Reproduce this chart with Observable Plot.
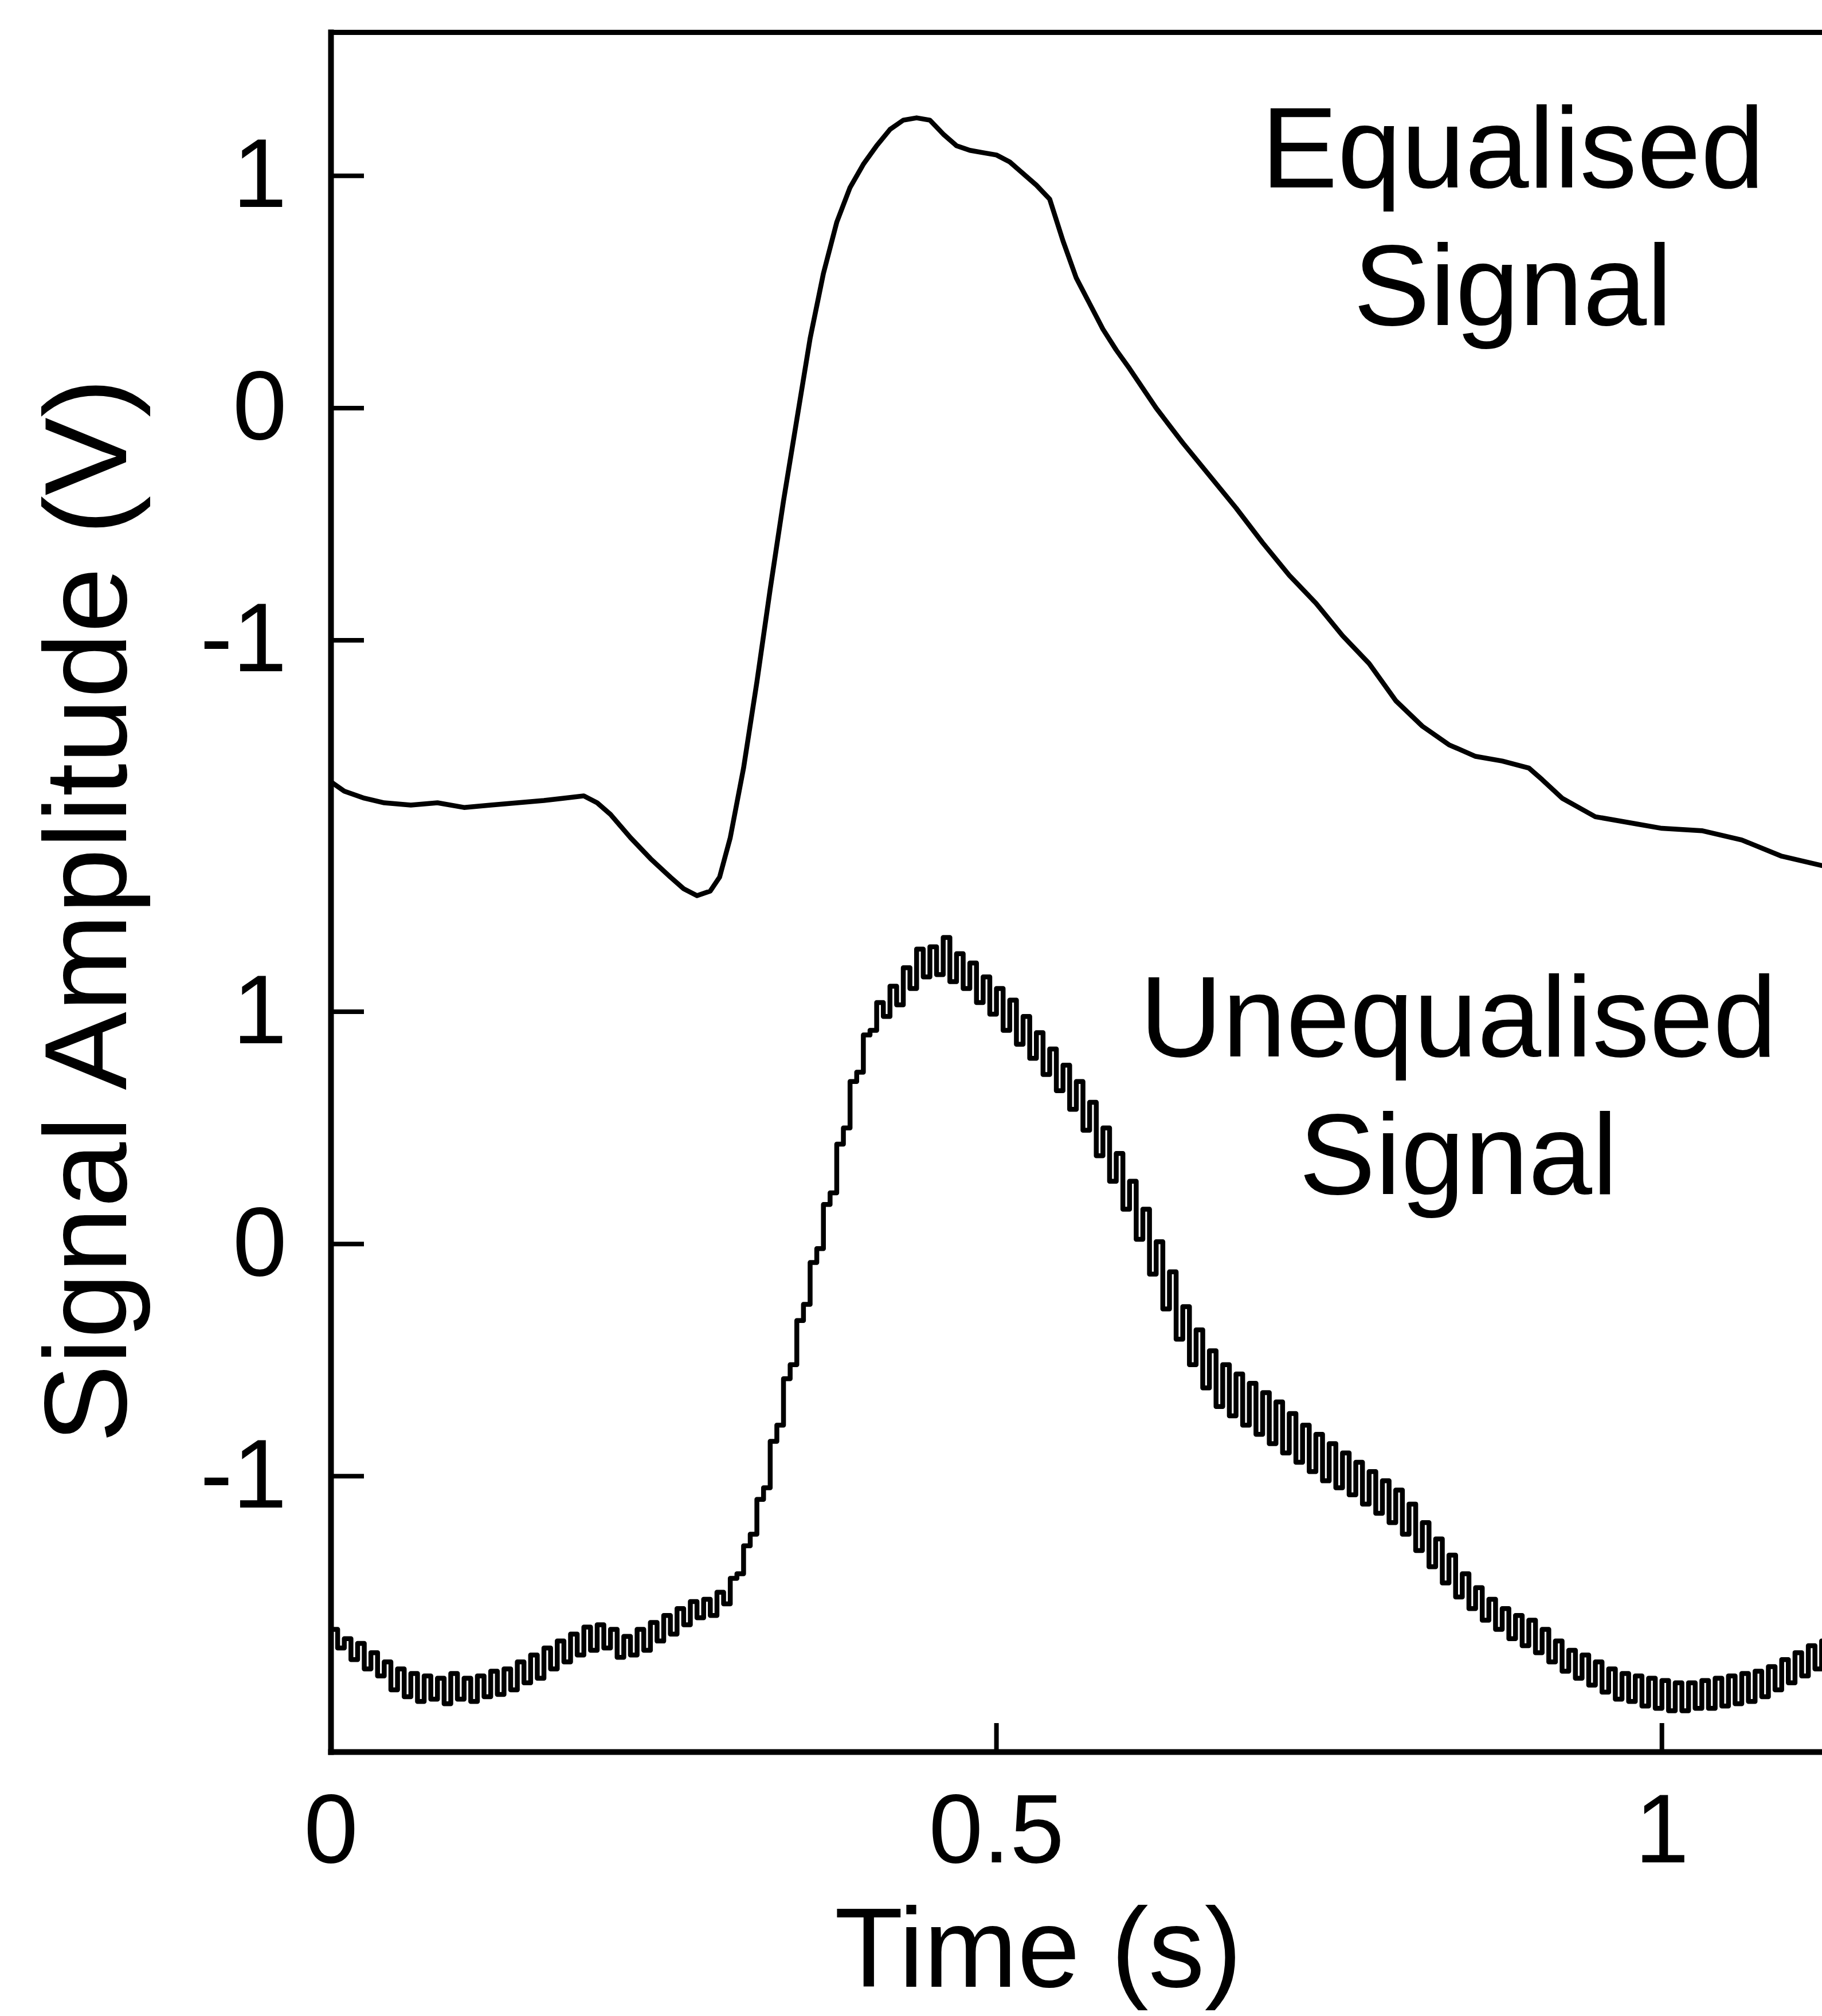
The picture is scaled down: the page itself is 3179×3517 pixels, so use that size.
<!DOCTYPE html>
<html>
<head>
<meta charset="utf-8">
<script src="https://cdn.jsdelivr.net/npm/d3@7"></script>
<script src="https://cdn.jsdelivr.net/npm/@observablehq/plot@0.6"></script>
<style>
  html, body { margin: 0; padding: 0; background: #fff; }
  #chart svg { display: block; }
</style>
</head>
<body>
<div id="chart"></div>
<script>
// ---- Equalised signal (upper trace), time in s, amplitude in V ----
const equalisedTime = [0, 0.01, 0.025, 0.04, 0.06, 0.08, 0.10, 0.12, 0.14, 0.16, 0.175, 0.19, 0.20, 0.21, 0.225, 0.24, 0.255, 0.265, 0.275, 0.285, 0.292, 0.30, 0.31, 0.32, 0.33, 0.34, 0.35, 0.36, 0.37, 0.38, 0.39, 0.40, 0.41, 0.42, 0.43, 0.44, 0.45, 0.46, 0.47, 0.48, 0.49, 0.50, 0.51, 0.52, 0.53, 0.54, 0.55, 0.56, 0.57, 0.58, 0.59, 0.60, 0.62, 0.64, 0.66, 0.68, 0.70, 0.72, 0.74, 0.76, 0.78, 0.80, 0.82, 0.84, 0.86, 0.88, 0.90, 0.91, 0.925, 0.95, 0.98, 1.00, 1.03, 1.06, 1.09, 1.12];
const equalisedValue = [-1.61, -1.65, -1.68, -1.70, -1.71, -1.70, -1.72, -1.71, -1.70, -1.69, -1.68, -1.67, -1.70, -1.75, -1.85, -1.94, -2.02, -2.07, -2.10, -2.08, -2.02, -1.85, -1.55, -1.18, -0.78, -0.40, -0.05, 0.30, 0.58, 0.80, 0.95, 1.05, 1.13, 1.20, 1.24, 1.25, 1.24, 1.18, 1.13, 1.11, 1.10, 1.09, 1.06, 1.01, 0.96, 0.90, 0.72, 0.56, 0.45, 0.34, 0.25, 0.17, 0.00, -0.15, -0.29, -0.43, -0.58, -0.72, -0.84, -0.98, -1.10, -1.26, -1.37, -1.45, -1.50, -1.52, -1.55, -1.60, -1.68, -1.76, -1.79, -1.81, -1.82, -1.86, -1.93, -1.97];

// ---- Unequalised signal (lower trace), sampled every 5 ms ----
const unequalisedStep = 0.005;
const unequalisedValue = [
  -1.66, -1.74, -1.70, -1.79, -1.72, -1.83, -1.76, -1.86, -1.80, -1.92,
  -1.83, -1.95, -1.85, -1.97, -1.86, -1.96, -1.87, -1.98, -1.85, -1.96,
  -1.87, -1.97, -1.86, -1.95, -1.84, -1.94, -1.83, -1.92, -1.80, -1.89,
  -1.77, -1.87, -1.74, -1.83, -1.71, -1.80, -1.68, -1.77, -1.65, -1.75,
  -1.64, -1.74, -1.66, -1.78, -1.69, -1.77, -1.66, -1.75, -1.63, -1.71,
  -1.60, -1.68, -1.57, -1.64, -1.54, -1.61, -1.53, -1.60, -1.50, -1.55,
  -1.44, -1.42, -1.30, -1.25, -1.10, -1.05, -0.85, -0.78, -0.58, -0.52,
  -0.33, -0.26, -0.08, -0.02, 0.17, 0.22, 0.43, 0.50, 0.70, 0.74,
  0.90, 0.92, 1.04, 0.98, 1.11, 1.03, 1.19, 1.10, 1.27, 1.15,
  1.28, 1.16, 1.32, 1.13, 1.25, 1.10, 1.21, 1.04, 1.15, 0.99,
  1.10, 0.92, 1.05, 0.86, 0.98, 0.80, 0.91, 0.73, 0.84, 0.66,
  0.77, 0.58, 0.70, 0.49, 0.61, 0.38, 0.50, 0.27, 0.39, 0.15,
  0.27, 0.02, 0.15, -0.13, 0.01, -0.28, -0.12, -0.41, -0.27, -0.52,
  -0.37, -0.62, -0.46, -0.70, -0.52, -0.74, -0.56, -0.78, -0.60, -0.82,
  -0.64, -0.86, -0.68, -0.90, -0.73, -0.94, -0.78, -0.98, -0.82, -1.02,
  -0.86, -1.05, -0.90, -1.08, -0.94, -1.12, -0.98, -1.16, -1.02, -1.20,
  -1.06, -1.25, -1.12, -1.32, -1.20, -1.39, -1.27, -1.46, -1.34, -1.52,
  -1.42, -1.57, -1.48, -1.62, -1.53, -1.66, -1.57, -1.70, -1.60, -1.73,
  -1.62, -1.76, -1.66, -1.80, -1.71, -1.84, -1.75, -1.87, -1.77, -1.90,
  -1.80, -1.93, -1.83, -1.96, -1.85, -1.97, -1.86, -1.99, -1.87, -2.00,
  -1.88, -2.01, -1.89, -2.01, -1.89, -2.00, -1.88, -2.00, -1.87, -1.99,
  -1.86, -1.98, -1.85, -1.97, -1.84, -1.95, -1.82, -1.92, -1.79, -1.89,
  -1.76, -1.86, -1.73, -1.83, -1.71
];

// ---- Axes ----
const panelOffset = 3.6;            // the upper trace sits 3.6 V above the lower one
const xTickValues = [0, 0.5, 1];
const xTickLabels = ["0", "0.5", "1"];
const yTickValues = [-1, 0, 1];
const yTickLabels = ["-1", "0", "1"];
const xLabel = "Time (s)";
const yLabel = "Signal Amplitude (V)";

// ---- Trace labels ----
const traceLabels = ["Equalised\nSignal", "Unequalised\nSignal"];
const traceLabelTime = [0.888, 0.847];
const traceLabelValue = [0.843, 0.70];
const traceLabelPanel = ["upper", "lower"];

// ---- Build tables ----
const upper = equalisedTime.map((t, i) => ({t, y: equalisedValue[i] + panelOffset}));
const lower = unequalisedValue.map((v, i) => ({t: i * unequalisedStep, y: v}));
const yTicksAll = [...yTickValues, ...yTickValues.map(v => v + panelOffset)];
const yLabelsAll = [...yTickLabels, ...yTickLabels];
const yTickText = d => yLabelsAll[yTicksAll.findIndex(v => Math.abs(v - d) < 1e-9)];
const xTickText = d => xTickLabels[xTickValues.indexOf(d)];
const annot = traceLabels.map((s, i) => ({
  text: s, t: traceLabelTime[i],
  y: traceLabelValue[i] + (traceLabelPanel[i] === "upper" ? panelOffset : 0)
}));

const font = "'Liberation Sans', Arial, Helvetica, sans-serif";

const chart = Plot.plot({
  width: 3179,
  height: 3517,
  marginLeft: 577,
  marginRight: 0,
  marginTop: 56,
  marginBottom: 461,
  x: {domain: [0, 1.1205]},
  y: {domain: [-2.188, 5.218]},
  style: {background: "white", color: "black", fontFamily: font, overflow: "visible"},
  marks: [
    Plot.frame({anchor: "left", stroke: "black", strokeWidth: 10}),
    Plot.frame({anchor: "top", stroke: "black", strokeWidth: 9}),
    Plot.frame({anchor: "bottom", stroke: "black", strokeWidth: 10}),
    // inward tick marks
    Plot.axisY(yTicksAll, {anchor: "left", tickSize: -58, strokeWidth: 8, tickFormat: () => "", label: null}),
    Plot.axisX(xTickValues.filter(v => v > 0), {anchor: "bottom", tickSize: -50, strokeWidth: 8, tickFormat: () => "", label: null}),
    // tick labels
    Plot.axisY(yTicksAll, {anchor: "left", tickSize: 0, tickPadding: 77, fontSize: 170, tickFormat: yTickText, label: null}),
    Plot.axisX(xTickValues, {anchor: "bottom", tickSize: 0, tickPadding: 72, fontSize: 170, tickFormat: xTickText, label: null}),
    // traces
    Plot.line(upper, {x: "t", y: "y", stroke: "black", strokeWidth: 8.5, strokeLinejoin: "round"}),
    Plot.line(lower, {x: "t", y: "y", stroke: "black", strokeWidth: 8.5, curve: "step-after"}),
    // trace labels
    Plot.text(annot, {x: "t", y: "y", text: "text", fontSize: 200, lineHeight: 1.2, textAnchor: "middle", lineAnchor: "middle", fill: "black"}),
    // axis titles
    Plot.text([xLabel], {frameAnchor: "bottom", text: d => d, dx: -67, dy: 347, fontSize: 196, lineAnchor: "middle", textAnchor: "middle", fill: "black"}),
    Plot.text([yLabel], {frameAnchor: "left", text: d => d, rotate: -90, dx: -423, dy: 32, fontSize: 205, lineAnchor: "middle", textAnchor: "middle", fill: "black"})
  ]
});
document.getElementById("chart").appendChild(chart);
</script>
</body>
</html>
